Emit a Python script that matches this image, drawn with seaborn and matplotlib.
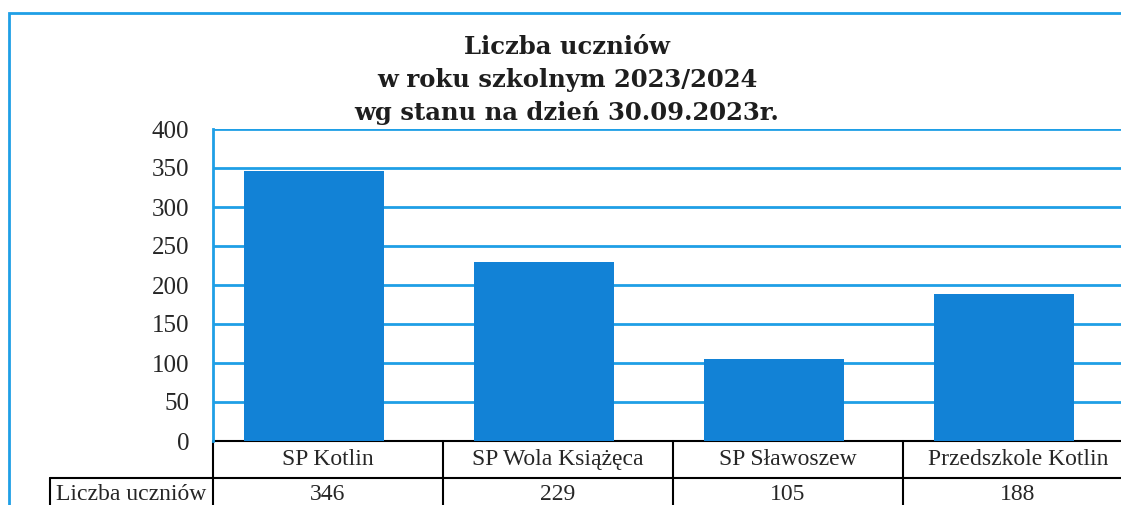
import matplotlib
matplotlib.use("Agg")
import matplotlib.pyplot as plt
import matplotlib.transforms as mtransforms
from matplotlib.patches import Rectangle
import seaborn as sns

# data
categories = ["SP Kotlin", "SP Wola Książęca", "SP Sławoszew", "Przedszkole Kotlin"]
values = [346, 229, 105, 188]
row_label = "Liczba uczniów"
title_lines = ["Liczba uczniów", "w roku szkolnym 2023/2024", "wg stanu na dzień 30.09.2023r."]
yticks = [0, 50, 100, 150, 200, 250, 300, 350, 400]

BAR = "#1282d6"
GRID = "#1f9fe6"

sns.set_style("white")
plt.rcParams["font.family"] = ["Liberation Serif", "DejaVu Serif"]

W, H = 1121, 505
fig = plt.figure(figsize=(W / 100, H / 100), dpi=100)

# outer frame (continues past the right/bottom edges of the scan)
fig.patches.append(Rectangle((9 / W, -0.1), 1.2, (H - 13) / H + 0.1, transform=fig.transFigure,
                             fill=False, edgecolor=GRID, linewidth=2))

# axes runs past the right edge, like the cropped original
ax = fig.add_axes([213 / W, 64 / H, 920 / W, 312 / H])
sns.barplot(x=categories, y=values, color=BAR, saturation=1, width=0.61, ax=ax,
            zorder=3, linewidth=0, edgecolor=BAR)

ax.set_xlim(-0.44, len(categories) - 0.44)
ax.set_ylim(0, 400)
ax.set_yticks(yticks)
ax.set_yticklabels([str(t) for t in yticks], fontsize=18)
ax.tick_params(axis="y", length=0, pad=17)
ax.set_xticks([])
ax.set_xlabel("")
ax.set_ylabel("")
for t in yticks[1:]:
    ax.axhline(t, color=GRID, linewidth=2, zorder=1)
ax.spines["left"].set_color(GRID)
ax.spines["left"].set_linewidth(2)
ax.spines["top"].set_visible(False)
ax.spines["right"].set_visible(False)
ax.spines["bottom"].set_visible(False)

# data table under the bars
tr = mtransforms.blended_transform_factory(ax.transData, ax.transAxes)
row_h = 37 / 312
lw = 1.5
edges = [i - 0.44 for i in range(len(categories) + 1)]
ax.plot([edges[0], edges[-1]], [0, 0], color="black", lw=lw, transform=tr, clip_on=False)
label_left = -0.44 - 163 / 230
ax.plot([label_left, edges[-1]], [-row_h, -row_h], color="black", lw=lw, transform=tr, clip_on=False)
ax.plot([label_left, edges[-1]], [-2 * row_h, -2 * row_h], color="black", lw=lw, transform=tr, clip_on=False)
for e in edges:
    ax.plot([e, e], [0, -2 * row_h], color="black", lw=lw, transform=tr, clip_on=False)
ax.plot([label_left, label_left], [-row_h, -2 * row_h], color="black", lw=lw, transform=tr, clip_on=False)

for i, (cat, v) in enumerate(zip(categories, values)):
    ax.text(i + 0.06, -row_h / 2, cat, transform=tr, ha="center", va="center", fontsize=17)
    ax.text(i + 0.06, -row_h * 1.5 + 0.005, str(v), transform=tr, ha="center", va="center", fontsize=17)
ax.text((label_left + edges[0]) / 2, -row_h * 1.5 + 0.005, row_label, transform=tr,
        ha="center", va="center", fontsize=17)

# title
for line, y in zip(title_lines, [47, 80, 113]):
    fig.text(567 / W, 1 - y / H, line, ha="center", va="center", fontsize=17.5,
             fontweight="heavy", family=["DejaVu Serif"], color="#1e1e1e")

fig.savefig("out.png", dpi=100)
